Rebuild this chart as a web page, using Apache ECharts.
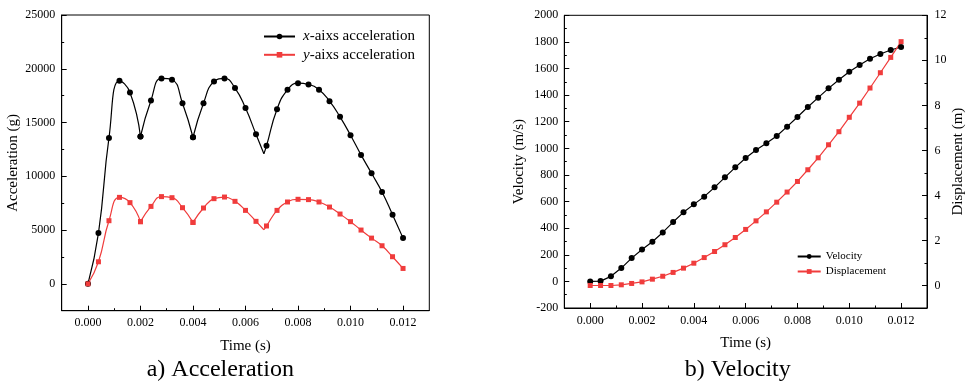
<!DOCTYPE html>
<html>
<head>
<meta charset="utf-8">
<script src="https://cdn.jsdelivr.net/npm/echarts@6/dist/echarts.min.js"></script>
<style>
  html, body { margin: 0; padding: 0; background: #fff; }
  #chart { width: 967px; height: 382px; }
</style>
</head>
<body>
<div id="chart"></div>
<script>
// Sample times (s)
const time = [0, 0.0004, 0.0008, 0.0012, 0.0016, 0.0020, 0.0024, 0.0028, 0.0032, 0.0036,
  0.0040, 0.0044, 0.0048, 0.0052, 0.0056, 0.0060, 0.0064, 0.0068, 0.0072, 0.0076,
  0.0080, 0.0084, 0.0088, 0.0092, 0.0096, 0.0100, 0.0104, 0.0108, 0.0112, 0.0116, 0.0120];

// Acceleration (g)
const accX = [0, 4720, 13570, 18880, 17800, 13700, 17050, 19100, 18980, 16800,
  13630, 16800, 18820, 19100, 18200, 16340, 13910, 12830, 16240, 18040,
  18660, 18540, 18040, 16990, 15530, 13820, 11990, 10280, 8540, 6430, 4250];
const accY = [0, 2050, 5870, 8040, 7550, 5780, 7200, 8110, 8010, 7080,
  5710, 7050, 7920, 8070, 7670, 6830, 5810, 5380, 6830, 7610,
  7860, 7830, 7610, 7140, 6490, 5780, 5000, 4250, 3540, 2520, 1430];
// Impact minimum between samples (no marker drawn there)
const dipTime = 0.0067;
const accXDip = 12100;
const accYDip = 5030;
// Sample indices where the curve has a cusp
const cuspIndex = [5, 10];

// Velocity (m/s) and displacement (m)
const velocity = [0, 2, 38, 100, 175, 240, 298, 368, 446, 519,
  579, 637, 707, 782, 857, 927, 987, 1038, 1093, 1163,
  1236, 1311, 1381, 1451, 1516, 1576, 1627, 1674, 1709, 1739, 1762];
const displacement = [0, 0, 0, 0.03, 0.09, 0.16, 0.28, 0.41, 0.58, 0.77,
  0.99, 1.24, 1.51, 1.81, 2.13, 2.49, 2.87, 3.27, 3.70, 4.15,
  4.62, 5.14, 5.67, 6.25, 6.83, 7.47, 8.10, 8.77, 9.45, 10.13, 10.83];

// Tick values
const timeTicks = [0, 0.002, 0.004, 0.006, 0.008, 0.010, 0.012];
const timeMinor = [0.001, 0.003, 0.005, 0.007, 0.009, 0.011];
const accTicks = [0, 5000, 10000, 15000, 20000, 25000];
const accMinor = [2500, 7500, 12500, 17500, 22500];
const velTicks = [-200, 0, 200, 400, 600, 800, 1000, 1200, 1400, 1600, 1800, 2000];
const velMinor = [-100, 100, 300, 500, 700, 900, 1100, 1300, 1500, 1700, 1900];
const dispTicks = [0, 2, 4, 6, 8, 10, 12];
const dispMinor = [1, 3, 5, 7, 9, 11];

const FONT = "'Liberation Serif', 'Times New Roman', serif";
const BLACK = '#000000';
const RED = '#f03c3c';

// Split a sampled curve into smooth arcs joined at sharp cusps
function arcs(values, dipValue) {
  const pts = time.map((t, i) => [t, values[i]]);
  const dip = { value: [dipTime, dipValue], symbol: 'none' };
  const dipAfter = time.findIndex(t => t > dipTime);
  const cuts = [0].concat(cuspIndex);
  const out = [];
  for (let k = 0; k < cuts.length; k++) {
    const end = k + 1 < cuts.length ? cuts[k + 1] + 1 : dipAfter;
    const seg = pts.slice(cuts[k], end);
    if (k + 1 === cuts.length) seg.push(dip);
    out.push(seg);
  }
  out.push([dip].concat(pts.slice(dipAfter)));
  return out;
}

function mainX(grid) {
  return {
    gridIndex: grid, type: 'value', min: -0.001, max: 0.013,
    axisLine: { show: true, onZero: false, lineStyle: { color: BLACK, width: 1 } },
    axisTick: { show: true, inside: true, length: 5, customValues: timeTicks, lineStyle: { color: BLACK, width: 1 } },
    axisLabel: { customValues: timeTicks, formatter: v => v.toFixed(3), margin: 6.5,
      color: BLACK, fontSize: 12, fontFamily: FONT },
    splitLine: { show: false },
    name: 'Time (s)', nameLocation: 'middle', nameGap: 28,
    nameTextStyle: { color: BLACK, fontSize: 15, fontFamily: FONT }
  };
}
function minorX(grid) {
  return {
    gridIndex: grid, type: 'value', min: -0.001, max: 0.013, position: 'bottom',
    axisLine: { show: false, onZero: false },
    axisTick: { show: true, inside: true, length: 2.5, customValues: timeMinor, lineStyle: { color: BLACK, width: 1 } },
    axisLabel: { show: false }, splitLine: { show: false }
  };
}
function mainY(grid, pos, min, max, ticks, name, gap, margin) {
  return {
    gridIndex: grid, type: 'value', position: pos, min: min, max: max,
    axisLine: { show: true, onZero: false, lineStyle: { color: BLACK, width: 1 } },
    axisTick: { show: true, inside: true, length: 5, customValues: ticks, lineStyle: { color: BLACK, width: 1 } },
    axisLabel: { customValues: ticks, formatter: v => String(v), margin: margin,
      color: BLACK, fontSize: 12, fontFamily: FONT },
    splitLine: { show: false },
    name: name, nameLocation: 'middle', nameGap: gap,
    nameTextStyle: { color: BLACK, fontSize: 15, fontFamily: FONT }
  };
}
function minorY(grid, pos, min, max, ticks) {
  return {
    gridIndex: grid, type: 'value', position: pos, min: min, max: max,
    axisLine: { show: false, onZero: false },
    axisTick: { show: true, inside: true, length: 2.5, customValues: ticks, lineStyle: { color: BLACK, width: 1 } },
    axisLabel: { show: false }, splitLine: { show: false }
  };
}

const series = [];
const X_NAME = 'x-aixs acceleration';
const Y_NAME = 'y-aixs acceleration';
arcs(accX, accXDip).forEach(seg => series.push({
  name: X_NAME, type: 'line', xAxisIndex: 0, yAxisIndex: 0, data: seg,
  smooth: 0.5, symbol: 'circle', symbolSize: 6,
  itemStyle: { color: BLACK }, lineStyle: { color: BLACK, width: 1.2 }
}));
arcs(accY, accYDip).forEach(seg => series.push({
  name: Y_NAME, type: 'line', xAxisIndex: 0, yAxisIndex: 0, data: seg,
  smooth: 0.5, symbol: 'rect', symbolSize: 5,
  itemStyle: { color: RED }, lineStyle: { color: RED, width: 1.2 }
}));
series.push({
  name: 'Velocity', type: 'line', xAxisIndex: 2, yAxisIndex: 2,
  data: time.map((t, i) => [t, velocity[i]]),
  symbol: 'circle', symbolSize: 6,
  itemStyle: { color: BLACK }, lineStyle: { color: BLACK, width: 1.2 }
});
series.push({
  name: 'Displacement', type: 'line', xAxisIndex: 2, yAxisIndex: 3,
  data: time.map((t, i) => [t, displacement[i]]),
  symbol: 'rect', symbolSize: 5,
  itemStyle: { color: RED }, lineStyle: { color: RED, width: 1.2 }
});

const chart = echarts.init(document.getElementById('chart'), null, { renderer: 'canvas' });
chart.setOption({
  animation: false,
  backgroundColor: '#ffffff',
  grid: [
    { left: 61.7, top: 15, width: 367.6, height: 295.7, show: true,
      borderColor: BLACK, borderWidth: 1, backgroundColor: 'transparent' },
    { left: 564.3, top: 15.3, width: 363, height: 292.7, show: true,
      borderColor: BLACK, borderWidth: 1, backgroundColor: 'transparent' }
  ],
  xAxis: [mainX(0), minorX(0), mainX(1), minorX(1)],
  yAxis: [
    mainY(0, 'left', -2500, 25000, accTicks, 'Acceleration (g)', 41, 6.5),
    minorY(0, 'left', -2500, 25000, accMinor),
    mainY(1, 'left', -200, 2000, velTicks, 'Velocity (m/s)', 38, 6),
    mainY(1, 'right', -1, 12, dispTicks, 'Displacement (m)', 24, 7.5),
    minorY(1, 'left', -200, 2000, velMinor),
    minorY(1, 'right', -1, 12, dispMinor)
  ],
  legend: [
    {
      data: [X_NAME, Y_NAME], orient: 'vertical', left: 263, top: 29, padding: 0,
      itemWidth: 31, itemHeight: 7, itemGap: 3.3, selectedMode: false,
      formatter: name => '{g|}{i|' + name.charAt(0) + '}' + name.slice(1),
      textStyle: {
        color: BLACK, fontSize: 15, fontFamily: FONT,
        rich: { g: { width: 3 }, i: { fontStyle: 'italic', fontSize: 15, fontFamily: FONT, color: BLACK } }
      }
    },
    {
      data: ['Velocity', 'Displacement'], orient: 'vertical', left: 796.7, top: 251, padding: 0,
      itemWidth: 23, itemHeight: 6, itemGap: 4, selectedMode: false,
      textStyle: { color: BLACK, fontSize: 11, fontFamily: FONT }
    }
  ],
  graphic: [
    { type: 'text', x: 220.3, y: 369.5,
      style: { text: 'a) Acceleration', fontSize: 24, fontFamily: FONT, fill: BLACK,
        align: 'center', verticalAlign: 'middle' } },
    { type: 'text', x: 737.8, y: 369.5,
      style: { text: 'b) Velocity', fontSize: 24, fontFamily: FONT, fill: BLACK,
        align: 'center', verticalAlign: 'middle' } }
  ],
  series: series
});
</script>
</body>
</html>
